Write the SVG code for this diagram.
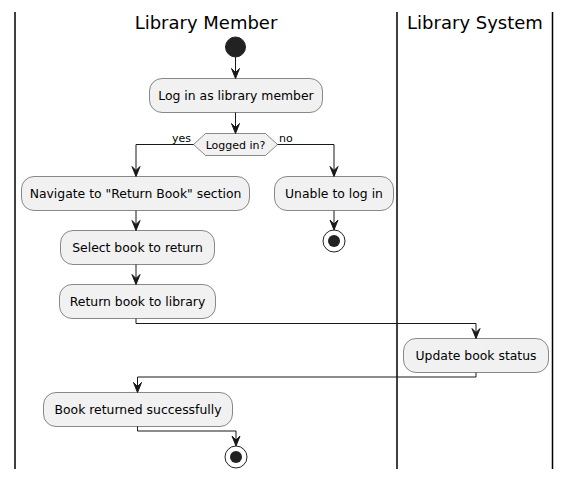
<svg xmlns="http://www.w3.org/2000/svg" width="571" height="479" viewBox="0 0 571 479">
<style>
.lane{stroke:#000;stroke-width:1.5;fill:none}
.title{font-family:"DejaVu Sans",sans-serif;font-size:18px;fill:#000;text-anchor:middle}
.box{fill:#F1F1F1;stroke:#181818;stroke-width:0.5}
.txt{font-family:"DejaVu Sans",sans-serif;font-size:12.4px;fill:#000;text-anchor:middle}
.lbl{font-family:"DejaVu Sans",sans-serif;font-size:11px;fill:#000}
.ln{stroke:#181818;stroke-width:1;fill:none}
.ah{fill:#181818;stroke:#181818;stroke-width:1}
</style>
<defs>
<polygon id="arr" points="-4,-10 0,0 4,-10 0,-6"/>
</defs>
<g id="lanes">
<line class="lane" x1="15" y1="12" x2="15" y2="469"/>
<line class="lane" x1="397" y1="12" x2="397" y2="469"/>
<line class="lane" x1="552.5" y1="12" x2="552.5" y2="469"/>
<text class="title" x="206" y="29">Library Member</text>
<text class="title" x="475" y="29">Library System</text>
</g>
<g id="start"><circle cx="235.5" cy="47" r="10" fill="#222222" stroke="#222222" stroke-width="1"/></g>
<g id="login"><rect class="box" x="149.5" y="78.5" width="173" height="34" rx="12.5"/><text class="txt" x="236" y="100">Log in as library member</text></g>
<g id="decision"><polygon class="box" points="193.5,144.5 205.5,133.5 265.5,133.5 277.5,144.5 265.5,155.5 205.5,155.5"/><text class="lbl" x="235.5" y="148.5" text-anchor="middle">Logged in?</text></g>
<g id="navigate"><rect class="box" x="21.5" y="176.5" width="228" height="34" rx="12.5"/><text class="txt" x="135.5" y="198">Navigate to "Return Book" section</text></g>
<g id="unable"><rect class="box" x="274.5" y="176.5" width="119" height="34" rx="12.5"/><text class="txt" x="334" y="198">Unable to log in</text></g>
<g id="end1"><circle cx="334" cy="241" r="11" fill="none" stroke="#222222" stroke-width="1"/><circle cx="334" cy="241" r="6" fill="#222222"/></g>
<g id="select"><rect class="box" x="60.5" y="230.5" width="154" height="34" rx="12.5"/><text class="txt" x="137.5" y="252">Select book to return</text></g>
<g id="return"><rect class="box" x="59.5" y="284.5" width="156" height="34" rx="12.5"/><text class="txt" x="137.5" y="306">Return book to library</text></g>
<g id="update"><rect class="box" x="403.5" y="338.5" width="145" height="34" rx="12.5"/><text class="txt" x="476" y="360">Update book status</text></g>
<g id="success"><rect class="box" x="43.5" y="392.5" width="189" height="34" rx="12.5"/><text class="txt" x="138" y="414">Book returned successfully</text></g>
<g id="end2"><circle cx="236" cy="457" r="11" fill="none" stroke="#222222" stroke-width="1"/><circle cx="236" cy="457" r="6" fill="#222222"/></g>
<g id="connectors">
<line class="ln" x1="235.5" y1="57" x2="235.5" y2="78"/><use href="#arr" class="ah" x="235.5" y="78.5"/>
<line class="ln" x1="235.5" y1="112.5" x2="235.5" y2="133"/><use href="#arr" class="ah" x="235.5" y="133.5"/>
<polyline class="ln" points="193.5,144.5 136,144.5 136,176"/><use href="#arr" class="ah" x="136" y="176.5"/>
<text class="lbl" x="172" y="141.5">yes</text>
<polyline class="ln" points="277.5,144.5 334,144.5 334,176"/><use href="#arr" class="ah" x="334" y="176.5"/>
<text class="lbl" x="279" y="141.5">no</text>
<line class="ln" x1="334" y1="210.5" x2="334" y2="229.5"/><use href="#arr" class="ah" x="334" y="230"/>
<line class="ln" x1="136" y1="210.5" x2="136" y2="230"/><use href="#arr" class="ah" x="136" y="230.5"/>
<line class="ln" x1="136" y1="264.5" x2="136" y2="284"/><use href="#arr" class="ah" x="136" y="284.5"/>
<polyline class="ln" points="136,318.5 136,323.5 476,323.5 476,338"/><use href="#arr" class="ah" x="476" y="338.5"/>
<polyline class="ln" points="476,372.5 476,377 137.5,377 137.5,392"/><use href="#arr" class="ah" x="137.5" y="392.5"/>
<polyline class="ln" points="137.5,426.5 137.5,431 236,431 236,445.5"/><use href="#arr" class="ah" x="236" y="446"/>
</g>
</svg>
